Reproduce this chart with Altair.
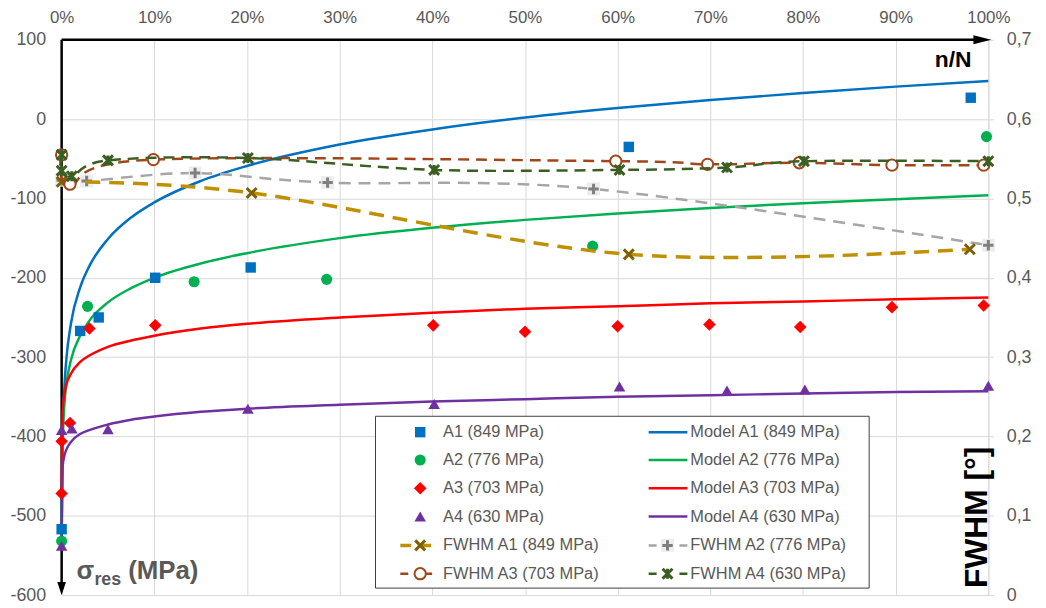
import altair as alt
import pandas as pd

W, H = 933, 559
FONT = "Liberation Sans"
GRAY = "#595959"

# ---------------- data ----------------
# Residual stress measurements (n/N as fraction, MPa)
A1_x = [0.0, 0.020, 0.040, 0.101, 0.204, 0.612, 0.981]
A1_s = [-517, -267, -250, -200, -187, -35, 27]
A2_x = [0.0, 0.028, 0.143, 0.286, 0.573, 0.998]
A2_s = [-532, -236, -205, -202, -160, -22]
A3_x = [0.0, 0.0, 0.009, 0.030, 0.101, 0.401, 0.500, 0.600, 0.699, 0.797, 0.896, 0.995]
A3_s = [-472, -406, -383, -264, -260, -260, -268, -261, -259, -262, -237, -235]
A4_x = [0.0, 0.0, 0.011, 0.050, 0.201, 0.402, 0.602, 0.718, 0.802, 1.0]
A4_s = [-538, -392, -390, -391, -365, -359, -337, -342, -341, -336]

# Model curves, values read at these n/N positions
M_x = [0.0, 0.001, 0.003, 0.005, 0.01, 0.02, 0.03, 0.05, 0.075, 0.1,
       0.15, 0.2, 0.3, 0.4, 0.5, 0.6, 0.7, 0.8, 0.9, 1.0]
M1 = [-517, -411, -338, -304, -258, -212, -185, -151, -124, -105,
      -78, -59, -32, -13, 2, 14, 24, 33, 41, 48]
M2 = [-532, -408, -359, -335, -304, -273, -254, -231, -213, -200,
      -182, -169, -150, -137, -127, -119, -112, -106, -101, -96]
M3 = [-472, -369, -346, -335, -321, -306, -298, -287, -279, -273,
      -264, -258, -250, -244, -239, -236, -232, -230, -227, -225]
M4 = [-538, -439, -424, -417, -407, -397, -392, -385, -379, -375,
      -369, -365, -360, -356, -353, -350, -348, -346, -344, -343]

# FWHM (degrees), secondary axis
F1_x = [0.0, 0.205, 0.612, 0.980]
F1_v = [0.521, 0.507, 0.4295, 0.436]
F2_x = [0.0, 0.027, 0.144, 0.287, 0.574, 1.0]
F2_v = [0.523, 0.522, 0.532, 0.520, 0.512, 0.441]
F3_x = [0.0, 0.009, 0.099, 0.598, 0.697, 0.796, 0.896, 0.995]
F3_v = [0.555, 0.518, 0.549, 0.547, 0.543, 0.545, 0.542, 0.542]
F4_x = [0.0, 0.0, 0.011, 0.050, 0.201, 0.402, 0.602, 0.718, 0.801, 1.0]
F4_v = [0.555, 0.535, 0.528, 0.548, 0.551, 0.536, 0.536, 0.539, 0.547, 0.547]

x_ticks = [round(i * 0.1, 1) for i in range(11)]
yl_ticks = list(range(-600, 101, 100))
yr_ticks = [round(i * 0.1, 1) for i in range(8)]

labels_col1 = ["A1 (849 MPa)", "A2 (776 MPa)", "A3 (703 MPa)", "A4 (630 MPa)",
               "FWHM A1 (849 MPa)", "FWHM A3 (703 MPa)"]
labels_col2 = ["Model A1 (849 MPa)", "Model A2 (776 MPa)", "Model A3 (703 MPa)",
               "Model A4 (630 MPa)", "FWHM A2 (776 MPa)", "FWHM A4 (630 MPa)"]

# ---------------- styles ----------------
C_A1, C_A2, C_A3, C_A4 = "#0070C0", "#00B050", "#FF0000", "#7030A0"
C_F1, C_F1m = "#BF9000", "#7F6000"
C_F2, C_F2m = "#A6A6A6", "#7F7F7F"
C_F3 = "#A0461A"
C_F4 = "#3B5E22"
XSHAPE = "M-1,-1L1,1M-1,1L1,-1"
PLUS = "M-1,0L1,0M0,-1L0,1"
STAR = "M-1,-1L1,1M-1,1L1,-1M0,-1L0,1"

X = alt.X("x:Q", title=None,
          scale=alt.Scale(domain=[0, 1], nice=False, zero=False),
          axis=alt.Axis(orient="top", values=x_ticks, format=".0%", grid=True,
                        gridColor="#d9d9d9", domain=False, ticks=False,
                        labelFontSize=17, labelColor=GRAY, labelPadding=13,
                        labelFlush=False, labelOverlap=False, labelFont=FONT))
YL = alt.Y("s:Q", title=None,
           scale=alt.Scale(domain=[-600, 100], nice=False, zero=False),
           axis=alt.Axis(orient="left", values=yl_ticks, grid=True, gridColor="#d9d9d9",
                         domain=False, ticks=False, labelFontSize=18, labelColor=GRAY,
                         labelPadding=16, labelFont=FONT, labelExpr="'' + datum.value"))
YR = alt.Y("f:Q", title=None,
           scale=alt.Scale(domain=[0, 0.7], nice=False, zero=False),
           axis=alt.Axis(orient="right", values=yr_ticks, grid=False, domainColor="#d9d9d9",
                         tickColor="#d9d9d9", tickSize=5, labelFontSize=18, labelColor=GRAY,
                         labelPadding=13, labelFont=FONT,
                         labelExpr="datum.value == 0 ? '0' : replace(format(datum.value, '.1f'), '.', ',')"))


def frame(xs, ys, field):
    return pd.DataFrame({"x": xs, field: ys, "i": list(range(len(xs)))})


def model(ys, color):
    return alt.Chart(frame(M_x, ys, "s")).mark_line(
        color=color, strokeWidth=2.5, interpolate="monotone").encode(x=X, y=YL, order="i:Q")


def spoints(xs, ys, shape, color, size):
    return alt.Chart(frame(xs, ys, "s")).mark_point(
        shape=shape, filled=True, color=color, size=size, opacity=1).encode(x=X, y=YL)


def fline(xs, vs, color, dash, width):
    return alt.Chart(frame(xs, vs, "f")).mark_line(
        color=color, strokeWidth=width, strokeDash=dash, interpolate="cardinal").encode(
        x=X, y=YR, order="i:Q")


def fmark(xs, vs, **kw):
    return alt.Chart(frame(xs, vs, "f")).mark_point(opacity=1, **kw).encode(x=X, y=YR)


stress = alt.layer(
    model(M1, C_A1), model(M2, C_A2), model(M3, C_A3), model(M4, C_A4),
    spoints(A1_x, A1_s, "square", C_A1, 110),
    spoints(A2_x, A2_s, "circle", C_A2, 125),
    spoints(A3_x, A3_s, "diamond", C_A3, 160),
    spoints(A4_x, A4_s, "triangle-up", C_A4, 135),
)

fwhm = alt.layer(
    fline(F2_x, F2_v, C_F2, [12, 8], 2.5),
    fmark(F2_x, F2_v, shape="square", filled=True, color="#EDEDED", size=170),
    fmark(F2_x, F2_v, shape=PLUS, filled=False, color=C_F2m, strokeWidth=3, size=110),
    fline(F1_x, F1_v, C_F1, [15, 9], 3.5),
    fmark(F1_x, F1_v, shape=XSHAPE, filled=False, color=C_F1m, strokeWidth=3, size=100),
    fline(F3_x, F3_v, C_F3, [11, 7], 2.5),
    fmark(F3_x, F3_v, shape="circle", filled=True, fill="white", stroke=C_F3,
          strokeWidth=2, size=130),
    fline(F4_x, F4_v, C_F4, [11, 7], 2.5),
    fmark(F4_x, F4_v, shape=STAR, filled=False, color=C_F4, strokeWidth=3, size=100),
)

# ---------------- annotations: axis lines, arrows, titles ----------------
seed = pd.DataFrame({"k": [0]})


def base():
    return alt.Chart(seed)


axis_lines = alt.layer(
    base().mark_rule(color="black", strokeWidth=2.5).encode(
        x=alt.value(0), y=alt.value(0), y2=alt.value(H - 8)),
    base().mark_rule(color="black", strokeWidth=2.5).encode(
        x=alt.value(0), x2=alt.value(W - 8), y=alt.value(0)),
)

annot = [
    base().mark_point(shape="M-0.65,-1L0.65,-1L0,1Z", filled=True, color="black",
                      opacity=1, size=180).encode(x=alt.value(0), y=alt.value(H - 6.5)),
    base().mark_point(shape="M-1,-0.5L1,0L-1,0.5Z", filled=True, color="black",
                      opacity=1, size=324).encode(x=alt.value(W - 6), y=alt.value(0)),
    base().mark_text(text="n/N", font=FONT, fontSize=23, fontWeight="bold", color="black",
                     align="left", baseline="alphabetic").encode(
        x=alt.value(879), y=alt.value(27)),
    base().mark_text(text="σ", font=FONT, fontSize=26, fontWeight="bold", color=GRAY,
                     align="left", baseline="alphabetic").encode(
        x=alt.value(15), y=alt.value(543)),
    base().mark_text(text="res", font=FONT, fontSize=18, fontWeight="bold", color=GRAY,
                     align="left", baseline="alphabetic").encode(
        x=alt.value(33), y=alt.value(549)),
    base().mark_text(text="(MPa)", font=FONT, fontSize=26, fontWeight="bold", color=GRAY,
                     align="left", baseline="alphabetic").encode(
        x=alt.value(67), y=alt.value(543)),
    base().mark_text(text="FWHM [°]", font=FONT, fontSize=32, fontWeight="bold", color="black",
                     align="left", baseline="alphabetic", angle=270).encode(
        x=alt.value(W - 1), y=alt.value(H - 7)),
]

# ---------------- legend ----------------
LX0, LX1, LY0, LY1 = 316, 813, 379, 552
rows = [395, 423, 451.5, 480, 509, 537.5]
c1_sym, c1_l0, c1_l1, c1_txt = 361, 341, 373, 384
c2_sym, c2_l0, c2_l1, c2_txt = 610, 591, 630, 633

leg = [base().mark_rect(fill="white", stroke="#404040", strokeWidth=1).encode(
    x=alt.value(LX0), x2=alt.value(LX1), y=alt.value(LY0), y2=alt.value(LY1))]


def lpt(x, y, **kw):
    return base().mark_point(opacity=1, **kw).encode(x=alt.value(x), y=alt.value(y))


def lline(x0, x1, y, color, width, dash=None):
    kw = dict(color=color, strokeWidth=width)
    if dash:
        kw["strokeDash"] = dash
    return base().mark_rule(**kw).encode(x=alt.value(x0), x2=alt.value(x1), y=alt.value(y))


sym_styles = [("square", C_A1, 110), ("circle", C_A2, 125), ("diamond", C_A3, 160),
              ("triangle-up", C_A4, 135)]
for r, (shp, col, sz) in enumerate(sym_styles):
    leg.append(lpt(c1_sym, rows[r], shape=shp, filled=True, color=col, size=sz))
for r, col in enumerate([C_A1, C_A2, C_A3, C_A4]):
    leg.append(lline(c2_l0, c2_l1, rows[r], col, 2.5))

leg.append(lline(c1_l0, c1_l1, rows[4], C_F1, 3.5, [11, 9]))
leg.append(lpt(c1_sym, rows[4], shape=XSHAPE, filled=False, color=C_F1m, strokeWidth=3, size=100))
leg.append(lline(c1_l0, c1_l1, rows[5], C_F3, 2.5, [8, 16]))
leg.append(lpt(c1_sym, rows[5], shape="circle", filled=True, fill="white", stroke=C_F3,
               strokeWidth=2, size=130))
leg.append(lline(c2_l0, c2_l1, rows[4], C_F2, 2.5, [8, 23]))
leg.append(lpt(c2_sym, rows[4], shape="square", filled=True, color="#EDEDED", size=170))
leg.append(lpt(c2_sym, rows[4], shape=PLUS, filled=False, color=C_F2m, strokeWidth=3, size=110))
leg.append(lline(c2_l0, c2_l1, rows[5], C_F4, 2.5, [8, 23]))
leg.append(lpt(c2_sym, rows[5], shape=STAR, filled=False, color=C_F4, strokeWidth=3, size=100))

for r, lab in enumerate(labels_col1):
    leg.append(base().mark_text(text=lab, font=FONT, fontSize=16.5, color=GRAY, align="left",
                                baseline="middle").encode(x=alt.value(c1_txt), y=alt.value(rows[r])))
for r, lab in enumerate(labels_col2):
    leg.append(base().mark_text(text=lab, font=FONT, fontSize=16.5, color=GRAY, align="left",
                                baseline="middle").encode(x=alt.value(c2_txt), y=alt.value(rows[r])))

chart = alt.layer(
    axis_lines, stress, fwhm, alt.layer(*annot), alt.layer(*leg)
).resolve_scale(y="independent").properties(
    width=W, height=H,
    padding={"left": 54, "top": 30, "right": 50, "bottom": 12},
    autosize=alt.AutoSizeParams(type="none"),
).configure_view(stroke=None)

chart.save("out.html", embed_options={"renderer": "svg", "actions": False})
